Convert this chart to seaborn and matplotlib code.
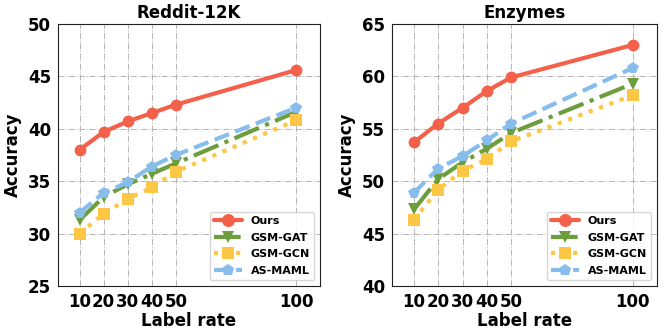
import matplotlib
matplotlib.use("Agg")
import matplotlib.pyplot as plt
import seaborn as sns
import pandas as pd

label_rate = [10, 20, 30, 40, 50, 100]
methods = ["Ours", "GSM-GAT", "GSM-GCN", "AS-MAML"]

reddit_ours = [38.0, 39.7, 40.7, 41.5, 42.3, 45.6]
reddit_gat = [31.3, 33.5, 34.7, 35.7, 36.7, 41.6]
reddit_gcn = [30.0, 31.9, 33.3, 34.4, 35.9, 40.8]
reddit_maml = [32.0, 33.9, 34.9, 36.4, 37.5, 42.0]

enz_ours = [53.7, 55.5, 57.0, 58.6, 59.9, 63.0]
enz_gat = [47.3, 50.2, 51.8, 53.1, 54.6, 59.3]
enz_gcn = [46.3, 49.2, 51.0, 52.1, 53.8, 58.2]
enz_maml = [48.9, 51.2, 52.4, 53.9, 55.5, 60.8]

sns.set_style("white")
plt.rcParams['font.family'] = ['DejaVu Sans']
plt.rcParams['font.weight'] = 'bold'
plt.rcParams['text.color'] = 'black'
plt.rcParams['axes.labelcolor'] = 'black'
plt.rcParams['xtick.color'] = 'black'
plt.rcParams['ytick.color'] = 'black'

styles = {
    "Ours": dict(color="#F4604A", ls="-", marker="o"),
    "GSM-GAT": dict(color="#6D9E3E", ls="-.", marker="v"),
    "GSM-GCN": dict(color="#FDC644", ls=":", marker="s"),
    "AS-MAML": dict(color="#86BDEC", ls="--", marker="p"),
}

panels = [
    ("Reddit-12K", [reddit_ours, reddit_gat, reddit_gcn, reddit_maml], (25, 50), [25, 30, 35, 40, 45, 50]),
    ("Enzymes", [enz_ours, enz_gat, enz_gcn, enz_maml], (40, 65), [40, 45, 50, 55, 60, 65]),
]

fig = plt.figure(figsize=(6.64, 3.33), dpi=100)
axes_pos = [[58/664, 1-286/333, 262/664, 262/333], [392/664, 1-286/333, 265/664, 262/333]]

for pos, (title, series, ylim, yticks) in zip(axes_pos, panels):
    ax = fig.add_axes(pos)
    for name, vals in zip(methods, series):
        df = pd.DataFrame({"x": label_rate, "y": vals})
        st = styles[name]
        sns.lineplot(data=df, x="x", y="y", ax=ax, color=st["color"], linestyle=st["ls"],
                     marker=st["marker"], markersize=8.5, linewidth=3, markeredgewidth=0,
                     label=name)
    ax.set_xlim(1, 110)
    ax.set_ylim(*ylim)
    ax.set_xticks(label_rate)
    ax.set_xticklabels([str(v) for v in label_rate], fontsize=12, fontweight='bold')
    ax.set_yticks(yticks)
    ax.set_yticklabels([str(v) for v in yticks], fontsize=12, fontweight='bold')
    ax.grid(True, linestyle='-.', color='#b5b5b5', linewidth=0.7)
    ax.set_xlabel("Label rate", fontsize=12, fontweight='bold', labelpad=1)
    ax.set_ylabel("Accuracy", fontsize=12, fontweight='bold')
    ax.set_title(title, fontsize=12, fontweight='bold', pad=4)
    for s in ax.spines.values():
        s.set_color('#222222')
        s.set_linewidth(0.8)
    ax.tick_params(axis='both', length=3, pad=2, color='#333333')
    leg = ax.legend(loc='lower right', prop={'weight': 'bold', 'size': 8}, handlelength=2.5,
                    borderpad=0.4, labelspacing=0.6, markerscale=1.1)

fig.savefig("out.png", dpi=100)
